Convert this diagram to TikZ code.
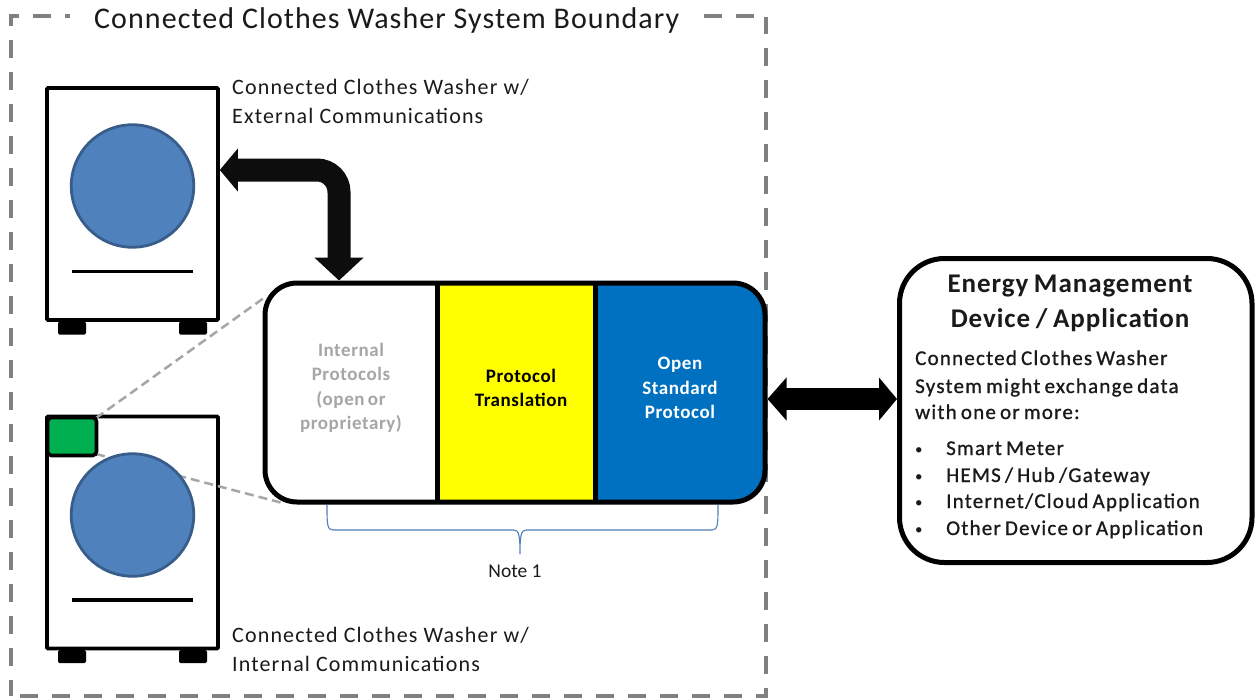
\documentclass[tikz,border=0pt]{standalone}
\usepackage{fontspec}
\setmainfont{Carlito}
\newfontfamily\ftitle[LetterSpace=3.6]{Carlito}
\newfontfamily\flabel[LetterSpace=5.2]{Carlito}
\newfontfamily\fsemi[LetterSpace=5.8,WordSpace=0.7,FakeBold=0.9]{Carlito}
\newfontfamily\fhead[LetterSpace=3.5,WordSpace=0.8]{Carlito}
\newfontfamily\finner[LetterSpace=3,WordSpace=0.7]{Carlito}
\usetikzlibrary{arrows.meta,shapes.geometric}
\definecolor{dashgray}{HTML}{808080}
\definecolor{linkgray}{HTML}{A6A6A6}
\definecolor{drum}{HTML}{4F81BD}
\definecolor{drumline}{HTML}{385D8A}
\definecolor{chip}{HTML}{00B050}
\definecolor{openblue}{HTML}{0070C0}
\definecolor{puryellow}{HTML}{FFFF00}
\definecolor{txt}{HTML}{1A1A1A}
\tikzset{
 x=1pt,y=-1pt,
 boundary/.style={draw=dashgray,line width=4pt,dash pattern=on 18pt off 14pt},
 washbody/.style={draw=black,line width=3.6pt,fill=white,rounded corners=1pt,minimum width=171pt,minimum height=232pt,inner sep=0pt},
 drumnode/.style={circle,draw=drumline,line width=2.8pt,fill=drum,minimum size=122.5pt,inner sep=0pt},
 foot/.style={fill=black,rounded corners=1.5pt,minimum width=28pt,minimum height=13pt,inner sep=0pt},
 link/.style={draw=linkgray,line width=2.5pt,dash pattern=on 9pt off 5pt},
 heavy/.style={draw=black!95,line width=23pt,{Triangle[width=42pt,length=18pt]}-{Triangle[width=48pt,length=23pt]}},
 heavyh/.style={draw=black,line width=22pt,{Triangle[width=42pt,length=19pt]}-{Triangle[width=42pt,length=18pt]}},
 lbl/.style={anchor=west,inner sep=0pt,align=left,text=txt,font=\flabel\fontsize{22}{29}\selectfont},
 inner/.style={inner sep=0pt,align=center,font=\finner\bfseries\fontsize{19}{24.5}\selectfont},
 emd/.style={inner sep=0pt,text=txt,anchor=base west,font=\fsemi\fontsize{21}{27}\selectfont},
 bul/.style={inner sep=0pt,text=txt,anchor=base west,font=\rmfamily\fontsize{15}{27}\selectfont},
}
\begin{document}
\begin{tikzpicture}
\useasboundingbox (0,0) rectangle (1256,697);
\fill[white] (0,0) rectangle (1256,697);
% boundary
\coordinate (bA) at (70,16);\coordinate (bB) at (11,16);\coordinate (bC) at (11,696);
\coordinate (bD) at (20,696);\coordinate (bE) at (765.5,696);\coordinate (bF) at (765.5,17);
\coordinate (bG) at (754,16);\coordinate (bH) at (704,16);
\draw[boundary,dash phase=13pt] (bA) -- (bB) -- (bC);
\draw[boundary] (bD) -- (bE) -- (bF);
\draw[boundary] (bG) -- (bH);
\node[anchor=west,inner sep=0pt,text=txt,font=\ftitle\fontsize{30}{36}\selectfont] (title) at (94,20) {Connected Clothes Washer System Boundary};
% washers
\node[foot] (afootl) at (72,328) {};
\node[foot] (afootr) at (193,328) {};
\node[foot] (bfootl) at (72,656.5) {};
\node[foot] (bfootr) at (193,656.5) {};
\node[washbody] (washa) at (132.5,204) {};
\node[washbody] (washb) at (132.5,532.5) {};
% central box
\begin{scope}
\clip[rounded corners=32pt] (265,283) rectangle (765,502);
\fill[puryellow] (437,283) rectangle (595,502);
\fill[openblue] (595,283) rectangle (765,502);
\end{scope}
\node[draw=black,line width=5pt,rounded corners=32pt,minimum width=500pt,minimum height=219pt,inner sep=0pt] (proto) at (515,392.5) {};
\coordinate (dv1t) at (437,283);\coordinate (dv1b) at (437,502);\coordinate (dv2t) at (595,283);\coordinate (dv2b) at (595,502);
\draw[black,line width=5pt] (dv1t) -- (dv1b);
\draw[black,line width=5pt] (dv2t) -- (dv2b);
% green module
\coordinate (chipne) at (96,418);\coordinate (chipse) at (96,454);
\draw[link] (chipne) -- ([shift={(2,17)}]proto.north west);
\draw[link] (chipse) -- ([shift={(18,-2)}]proto.south west);
% washer faces
\node[drumnode] (druma) at (132.5,186) {};
\node[drumnode] (drumb) at (132.5,515) {};
\coordinate (la1) at (72,271.5);\coordinate (la2) at (193,271.5);
\coordinate (lb1) at (72,600);\coordinate (lb2) at (193,600);
\draw[black,line width=3.6pt] (la1) -- (la2);
\draw[black,line width=3.6pt] (lb1) -- (lb2);
\node[draw=black,line width=3.6pt,fill=chip,rounded corners=4pt,minimum width=49pt,minimum height=38pt,inner sep=0pt] (chipm) at (72,436.5) {};
% labels
\node[lbl] (lab1) at (232,101.5) {Connected Clothes Washer w/\\External Communications};
\node[lbl] (lab2) at (232,649.5) {Connected Clothes Washer w/\\Internal Communications};
\node[inner,text=linkgray] (pint) at (351,388) {Internal\\Protocols\\(open or\\proprietary)};
\node[inner,text=black] (ptr) at (521,388) {Protocol\\Translation};
\node[inner,text=white] (pos) at (680,388) {Open\\Standard\\Protocol};
% brace
\coordinate (br1) at (327,505);\coordinate (br2) at (718,505);\coordinate (brt) at (520,554);
\draw[drum,line width=1.1pt] (br1) .. controls (327,524) and (327,530) .. (333,530) -- (514,530) .. controls (519,530) and (520,536) .. (brt) .. controls (520,536) and (521,530) .. (526,530) -- (712,530) .. controls (718,530) and (718,524) .. (br2);
\node[inner sep=0pt,text=txt,font=\fontsize{19.5}{22}\selectfont] (note) at (515,571) {Note 1};
% EMD box
\node[draw=black,line width=5pt,rounded corners=45pt,fill=white,minimum width=352.5pt,minimum height=304pt,inner sep=0pt] (emd) at (1075.75,410.5) {};
\node[inner sep=0pt,align=center,text=txt,font=\fhead\bfseries\fontsize{27}{35}\selectfont] (emdt) at (1070,303) {Energy Management\\Device / Application};
\node[emd] (e1) at (915,365) {Connected Clothes Washer};
\node[emd] (e2) at (915,393) {System might exchange data};
\node[emd] (e3) at (915,419) {with one or more:};
\node[bul] (sb) at (915,454) {•};
\node[emd] (st) at (946,455) {Smart Meter};
\node[bul] (hb) at (915,481) {•};
\node[emd] (ht) at (946,482) {HEMS / Hub /Gateway};
\node[bul] (ib) at (915,507) {•};
\node[emd] (it) at (946,508) {Internet/Cloud Application};
\node[bul] (ob) at (915,534) {•};
\node[emd] (ot) at (946,535) {Other Device or Application};
% connectors
\draw[heavy,rounded corners=22pt] ([yshift=34pt]washa.east) -| (proto.north -| 339,0);
\draw[heavyh] ([yshift=-6.5pt]proto.east) -- ([yshift=11.5pt]emd.west);
\end{tikzpicture}
\end{document}
